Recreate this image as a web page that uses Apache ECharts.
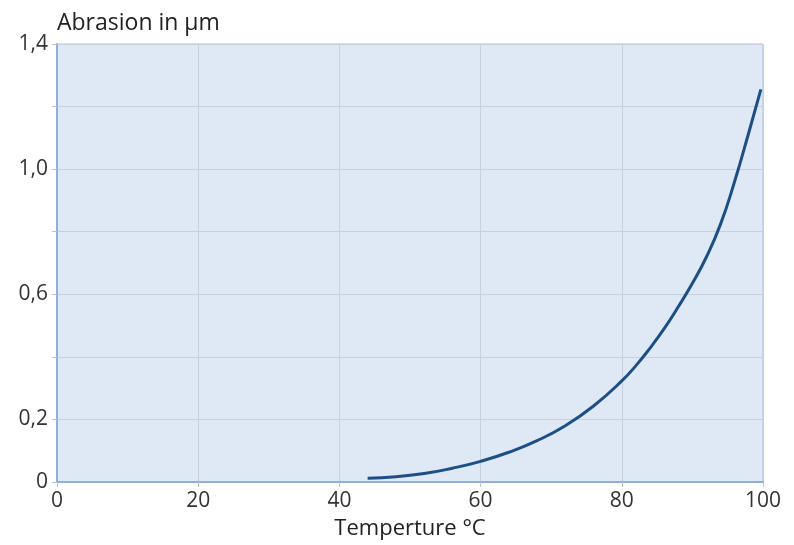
<!DOCTYPE html>
<html>
<head>
<meta charset="utf-8">
<script src="https://cdn.jsdelivr.net/npm/echarts@6/dist/echarts.min.js"></script>
<style>html,body{margin:0;padding:0;background:#fff;}#c{width:794px;height:545px;}</style>
</head>
<body>
<div id="c"></div>
<script>
var temperature = [44, 48, 52, 56, 60, 64, 68, 72, 76, 80, 82, 84, 86, 88, 90, 92, 94, 96, 98, 99.7];
var abrasion = [0.012, 0.017, 0.027, 0.044, 0.066, 0.095, 0.132, 0.18, 0.243, 0.323, 0.372, 0.428, 0.49, 0.56, 0.635, 0.72, 0.825, 0.962, 1.118, 1.255];
var yLabeled = {0: '0', 0.2: '0,2', 0.6: '0,6', 1.0: '1,0', 1.4: '1,4'};
var yAxisTitle = 'Abrasion in µm';
var xAxisTitle = 'Temperture °C';

var pts = temperature.map(function (t, i) { return [t, abrasion[i]]; });
var font = '"Open Sans", "Noto Sans", sans-serif';
var chart = echarts.init(document.getElementById('c'));
chart.setOption({
  animation: false,
  grid: {
    left: 57, right: 31, top: 44, bottom: 62,
    show: true, backgroundColor: '#dfe8f5', borderColor: '#a9c2e0', borderWidth: 1
  },
  xAxis: {
    type: 'value', min: 0, max: 100, interval: 20,
    name: xAxisTitle, nameLocation: 'middle', nameGap: 36,
    nameTextStyle: { fontFamily: font, fontSize: 22, color: '#222' },
    axisLine: { show: true, lineStyle: { color: '#8fb0d8', width: 2 } },
    axisTick: { show: true, length: 5, lineStyle: { color: '#b9c4d2' } },
    axisLabel: { fontFamily: font, fontSize: 21, color: '#333', margin: 9 },
    splitLine: { show: true, lineStyle: { color: '#c6d0de', width: 1 } }
  },
  yAxis: {
    type: 'value', min: 0, max: 1.4, interval: 0.2,
    name: yAxisTitle, nameLocation: 'end', nameGap: 9,
    nameTextStyle: { fontFamily: font, fontSize: 23, color: '#222', align: 'left', verticalAlign: 'bottom' },
    axisLine: { show: true, lineStyle: { color: '#8fb0d8', width: 2 } },
    axisTick: { show: true, length: 5, lineStyle: { color: '#b9c4d2' } },
    axisLabel: {
      fontFamily: font, fontSize: 21, color: '#333', margin: 9,
      formatter: function (v) {
        var k = Math.round(v * 10) / 10;
        return yLabeled.hasOwnProperty(k) ? yLabeled[k] : '';
      }
    },
    splitLine: { show: true, lineStyle: { color: '#c6d0de', width: 1 } }
  },
  series: [{
    type: 'line', data: pts, smooth: true, showSymbol: false,
    lineStyle: { color: '#1e4f84', width: 3 }
  }]
});
</script>
</body>
</html>
